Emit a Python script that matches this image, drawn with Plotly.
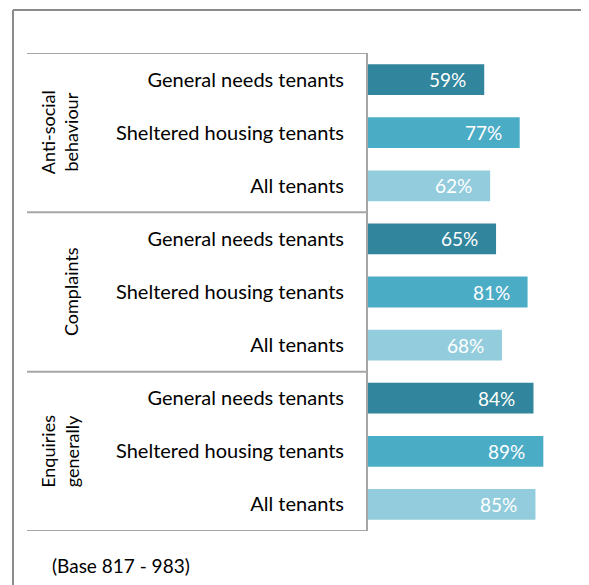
import plotly.graph_objects as go

groups = ["Anti-social<br>behaviour", "Complaints", "Enquiries<br>generally"]
tenant_types = ["General needs tenants", "Sheltered housing tenants", "All tenants"]
values = [
    [59, 77, 62],
    [65, 81, 68],
    [84, 89, 85],
]
colors = ["#31859C", "#4BACC6", "#93CDDD"]
base_note = "(Base 817 - 983)"

# the page body adds an 8px margin, so the figure is drawn 8px smaller
OFF = 8
W, H = 589 - OFF, 585 - OFF
L, R, T, B = 360, 24, 45, 54
PW, PH = W - L - R, H - T - B
FONT = "Lato, Carlito, sans-serif"


def px_x(px):
    # reference pixel -> paper coordinate
    return (px - OFF - L) / PW


def px_y(py):
    return (H - B - (py - OFF)) / PH


fig = go.Figure()

ypos, xs, cols, labels = [], [], [], []
for g, row in enumerate(values):
    for k, v in enumerate(row):
        ypos.append(g * 3 + k)
        xs.append(v)
        cols.append(colors[k])
        labels.append(tenant_types[k])

fig.add_trace(go.Bar(
    x=xs, y=ypos, orientation="h", width=0.58,
    marker=dict(color=cols, line=dict(width=0)),
    hoverinfo="skip",
))

for v, y in zip(xs, ypos):
    fig.add_annotation(
        x=v, y=y, xref="x", yref="y", text=f"{v}%", showarrow=False,
        xanchor="right", xshift=-16,
        font=dict(family=FONT, size=19, color="white"),
    )

for g, name in enumerate(groups):
    fig.add_annotation(
        x=px_x(84), y=g * 3 + 1, xref="paper", yref="y", text=name,
        showarrow=False, textangle=-90, xanchor="right", align="center",
        font=dict(family=FONT, size=18, color="black"),
    )

# table lines between groups
for g in range(len(groups) + 1):
    fig.add_shape(type="line", xref="paper", yref="y",
                  x0=px_x(27), x1=0, y0=g * 3 - 0.5, y1=g * 3 - 0.5,
                  line=dict(color="#A6A6A6", width=2))

# outer frame
fig.add_shape(type="line", xref="paper", yref="paper",
              x0=px_x(13), x1=px_x(13), y0=px_y(10), y1=px_y(600),
              line=dict(color="#8C8C8C", width=2))
fig.add_shape(type="line", xref="paper", yref="paper",
              x0=px_x(13), x1=px_x(600), y0=px_y(10), y1=px_y(10),
              line=dict(color="#8C8C8C", width=2))

fig.add_annotation(
    x=px_x(50), y=px_y(565), xref="paper", yref="paper", text=base_note,
    showarrow=False, xanchor="left", yanchor="middle",
    font=dict(family=FONT, size=19, color="black"),
)

fig.update_layout(
    width=W, height=H,
    margin=dict(l=L, r=R, t=T, b=B),
    plot_bgcolor="white", paper_bgcolor="white",
    showlegend=False,
    font=dict(family=FONT, size=20, color="black"),
    xaxis=dict(range=[0, 100], visible=False, fixedrange=True),
    yaxis=dict(
        range=[8.5, -0.5], tickvals=ypos, ticktext=labels,
        showline=True, linecolor="#A6A6A6", linewidth=2,
        showgrid=False, zeroline=False, ticks="",
        ticklabelstandoff=18,
        tickfont=dict(family=FONT, size=20, color="black"),
        fixedrange=True,
    ),
)

fig.write_html("out.html")
